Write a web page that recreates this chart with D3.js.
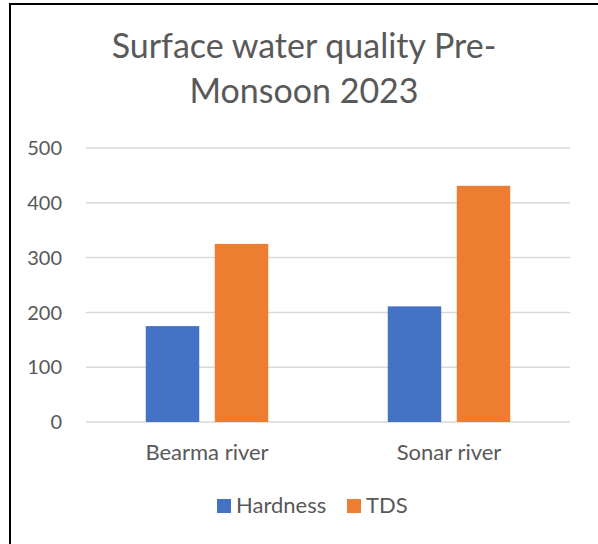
<!DOCTYPE html>
<html>
<head>
<meta charset="utf-8">
<script src="https://cdn.jsdelivr.net/npm/d3@7"></script>
<style>
  body { margin: 0; background: #fff; }
  text { font-family: Lato, "Open Sans", sans-serif; fill: #595959; }
</style>
</head>
<body>
<svg id="chart" width="598" height="544"></svg>
<script>
// chart data
const categories = ["Bearma river", "Sonar river"];
const seriesNames = ["Hardness", "TDS"];
const hardness = [175, 211];
const tds = [325, 431];
const yTicks = [0, 100, 200, 300, 400, 500];
const titleLines = ["Surface water quality Pre-", "Monsoon 2023"];

const colors = { Hardness: "#4472C4", TDS: "#ED7D31" };
const values = { Hardness: hardness, TDS: tds };

const svg = d3.select("#chart");

// outer frame of the chart area
svg.append("rect")
  .attr("x", 10).attr("y", 4)
  .attr("width", 600).attr("height", 560)
  .attr("fill", "#fff")
  .attr("stroke", "#000")
  .attr("stroke-width", 2);

const plot = { left: 86, right: 570, top: 148, bottom: 422 };

const y = d3.scaleLinear()
  .domain([0, 500])
  .range([plot.bottom, plot.top]);

const x0 = d3.scaleBand()
  .domain(categories)
  .range([plot.left, plot.right])
  .padding(0);

const x1 = d3.scaleBand()
  .domain(seriesNames)
  .range([0, x0.bandwidth()])
  .paddingInner(0.225)
  .paddingOuter(0.866);

// gridlines
svg.append("g")
  .selectAll("line")
  .data(yTicks)
  .join("line")
  .attr("x1", plot.left).attr("x2", plot.right)
  .attr("y1", d => y(d)).attr("y2", d => y(d))
  .attr("stroke", "#d9d9d9")
  .attr("stroke-width", 1.5);

// y tick labels
svg.append("g")
  .selectAll("text")
  .data(yTicks)
  .join("text")
  .attr("x", 62)
  .attr("y", d => y(d))
  .attr("dy", "0.36em")
  .attr("text-anchor", "end")
  .style("font-size", "20px")
  .text(d => d);

// bars
const groups = svg.append("g")
  .selectAll("g")
  .data(categories)
  .join("g")
  .attr("transform", d => `translate(${x0(d)},0)`);

groups.selectAll("rect")
  .data((c, i) => seriesNames.map(s => ({ s, v: values[s][i] })))
  .join("rect")
  .attr("x", d => x1(d.s))
  .attr("width", x1.bandwidth())
  .attr("y", d => y(d.v))
  .attr("height", d => y(0) - y(d.v))
  .attr("fill", d => colors[d.s]);

// category labels
svg.append("g")
  .selectAll("text")
  .data(categories)
  .join("text")
  .attr("x", d => x0(d) + x0.bandwidth() / 2)
  .attr("y", 460)
  .attr("text-anchor", "middle")
  .style("font-size", "22px")
  .text(d => d);

// title
svg.append("text")
  .attr("x", 304)
  .attr("text-anchor", "middle")
  .style("font-size", "34px")
  .selectAll("tspan")
  .data(titleLines)
  .join("tspan")
  .attr("x", 304)
  .attr("y", (d, i) => 58 + i * 45)
  .text(d => d);

// legend
const legend = svg.append("g");
const legendX = [217, 347];
seriesNames.forEach((s, i) => {
  legend.append("rect")
    .attr("x", legendX[i]).attr("y", 499)
    .attr("width", 14).attr("height", 14)
    .attr("fill", colors[s]);
  legend.append("text")
    .attr("x", legendX[i] + 19)
    .attr("y", 513)
    .style("font-size", "22px")
    .text(s);
});
</script>
</body>
</html>
